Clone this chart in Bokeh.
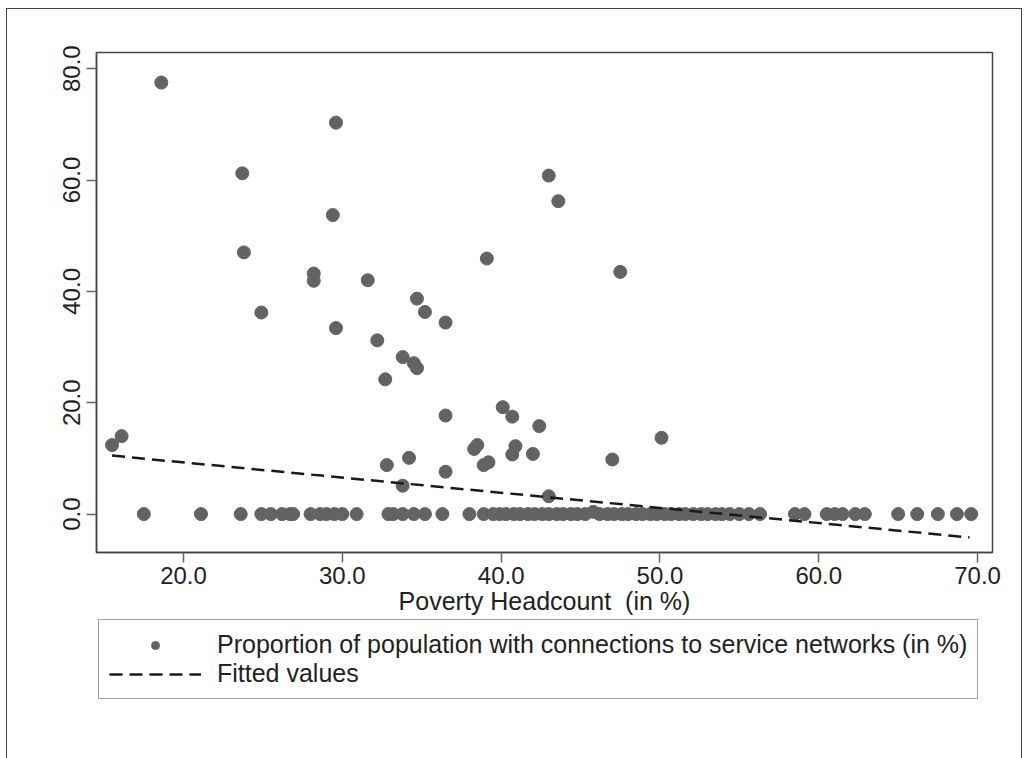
from bokeh.plotting import figure
from bokeh.layouts import column
from bokeh.models import Range1d, FixedTicker, NumeralTickFormatter, Legend, LegendItem
from bokeh.embed import file_html
from bokeh.resources import INLINE

# Poverty headcount (in %) and proportion of population with connections (in %)
poverty_nonzero = [15.5, 16.1, 18.6, 23.7, 23.8, 24.9, 28.2, 28.2, 29.4, 29.6, 29.6,
                   31.6, 32.2, 32.7, 32.8, 33.8, 33.8, 34.2, 34.5, 34.7, 34.7, 35.2,
                   36.5, 36.5, 36.5, 38.3, 38.5, 38.9, 39.2, 39.1, 40.1, 40.7, 40.7,
                   40.9, 42.0, 42.4, 43.0, 43.0, 43.6, 47.0, 47.5, 50.1, 45.8]
connect_nonzero = [12.4, 14.0, 77.5, 61.2, 47.0, 36.2, 43.2, 41.9, 53.7, 70.3, 33.4,
                   42.0, 31.2, 24.2, 8.8, 28.2, 5.1, 10.1, 27.1, 26.2, 38.7, 36.3,
                   34.4, 17.7, 7.6, 11.7, 12.4, 8.8, 9.3, 45.9, 19.2, 17.5, 10.7,
                   12.2, 10.8, 15.8, 60.8, 3.2, 56.2, 9.8, 43.5, 13.7, 0.4]
poverty_zero = [17.5, 21.1, 23.6, 24.9, 25.5, 26.2, 26.7, 26.9, 28.0, 28.6, 29.0, 29.5,
                30.0, 30.9, 32.9, 33.2, 33.8, 34.5, 35.2, 36.3, 38.0, 38.9, 39.5, 39.9,
                40.3, 40.8, 41.2, 41.7, 42.1, 42.6, 43.0, 43.5, 43.9, 44.4, 44.8, 45.3,
                46.2, 46.7, 47.1, 47.6, 48.0, 48.5, 48.9, 49.4, 49.8, 50.3, 50.7, 51.2,
                51.6, 52.1, 52.6, 53.0, 53.5, 53.9, 54.4, 55.0, 55.6, 56.3, 58.5, 59.1,
                60.5, 61.0, 61.5, 62.3, 62.9, 65.0, 66.2, 67.5, 68.7, 69.6]
connect_zero = [0.0] * len(poverty_zero)

poverty = poverty_nonzero + poverty_zero
connections = connect_nonzero + connect_zero

# Fitted values (linear fit) read at the ends of the line
fit_x = [15.5, 69.5]
fit_y = [10.5, -4.2]

x_ticks = [20, 30, 40, 50, 60, 70]
y_ticks = [0, 20, 40, 60, 80]

legend_labels = ["Proportion of population with connections to service networks (in %)",
                 "Fitted values"]

FONT = "Liberation Sans"
TXT = "#222222"
DOT = "#636363"
LINE = "#1a1a1a"

# ---------------- main plot ----------------
p = figure(frame_width=896, frame_height=500, output_backend="svg", toolbar_location=None,
           x_range=Range1d(14.52, 70.94), y_range=Range1d(-6.9, 82.9),
           min_border_left=84, min_border_right=30, min_border_top=43,
           min_border_bottom=0)

p.xgrid.visible = False
p.ygrid.visible = False
p.outline_line_color = "#444444"
p.outline_line_width = 1.5
p.background_fill_color = "white"
p.border_fill_color = "white"

p.scatter(poverty, connections, size=13, color=DOT, line_color=DOT)
p.line(fit_x, fit_y, line_color=LINE, line_width=2.5, line_dash="13 7")

for ax in (p.xaxis[0], p.yaxis[0]):
    ax.major_tick_out = 10
    ax.major_tick_in = 0
    ax.minor_tick_line_color = None
    ax.axis_line_color = "#444444"
    ax.axis_line_width = 1.5
    ax.major_tick_line_color = "#666666"
    ax.major_tick_line_width = 1.5
    ax.major_label_text_font = FONT
    ax.major_label_text_font_size = "24px"
    ax.major_label_text_color = TXT
    ax.formatter = NumeralTickFormatter(format="0.0")

p.xaxis.ticker = FixedTicker(ticks=x_ticks)
p.yaxis.ticker = FixedTicker(ticks=y_ticks)
p.yaxis.major_label_orientation = "vertical"
p.xaxis.major_label_standoff = 4
p.yaxis.major_label_standoff = 6

p.xaxis.axis_label = "Poverty Headcount\u00a0 (in %)"
p.xaxis.axis_label_text_font = FONT
p.xaxis.axis_label_text_font_size = "25px"
p.xaxis.axis_label_text_font_style = "normal"
p.xaxis.axis_label_text_color = TXT
p.xaxis.axis_label_standoff = 0

# ---------------- legend strip ----------------
lf = figure(frame_width=925, frame_height=150, output_backend="svg", toolbar_location=None,
            x_range=Range1d(0, 1), y_range=Range1d(0, 1),
            x_axis_type=None, y_axis_type=None,
            min_border_left=89, min_border_right=0, min_border_top=0, min_border_bottom=0)
lf.outline_line_color = None
lf.xgrid.visible = False
lf.ygrid.visible = False
lf.background_fill_color = None
lf.border_fill_color = None

# key-only renderers (no visible data point) so the legend can draw its glyphs
key_dot = lf.scatter(x=[float("nan")], y=[float("nan")], size=11, color=DOT, line_color=DOT)
key_line = lf.line(x=[float("nan")], y=[float("nan")], line_color=LINE, line_width=2.5,
                   line_dash="13 7")

legend = Legend(items=[
    LegendItem(label=legend_labels[0], renderers=[key_dot]),
    LegendItem(label=legend_labels[1], renderers=[key_line]),
], location="top_left", orientation="vertical")
legend.label_text_font = FONT
legend.label_text_font_size = "25px"
legend.label_text_color = TXT
legend.label_text_line_height = 0.95
legend.glyph_width = 92
legend.glyph_height = 20
legend.label_height = 20
legend.label_standoff = 16
legend.spacing = 0
legend.padding = 10
legend.margin = 2
legend.border_line_color = "#444444"
legend.border_line_width = 1.5
legend.background_fill_color = "white"
lf.add_layout(legend, "center")

layout = column(p, lf, spacing=0,
                styles={"border": "1.5px solid #444444", "margin-left": "6px",
                        "margin-top": "8px", "background-color": "white"})

open("out.html", "w").write(file_html(layout, INLINE))
